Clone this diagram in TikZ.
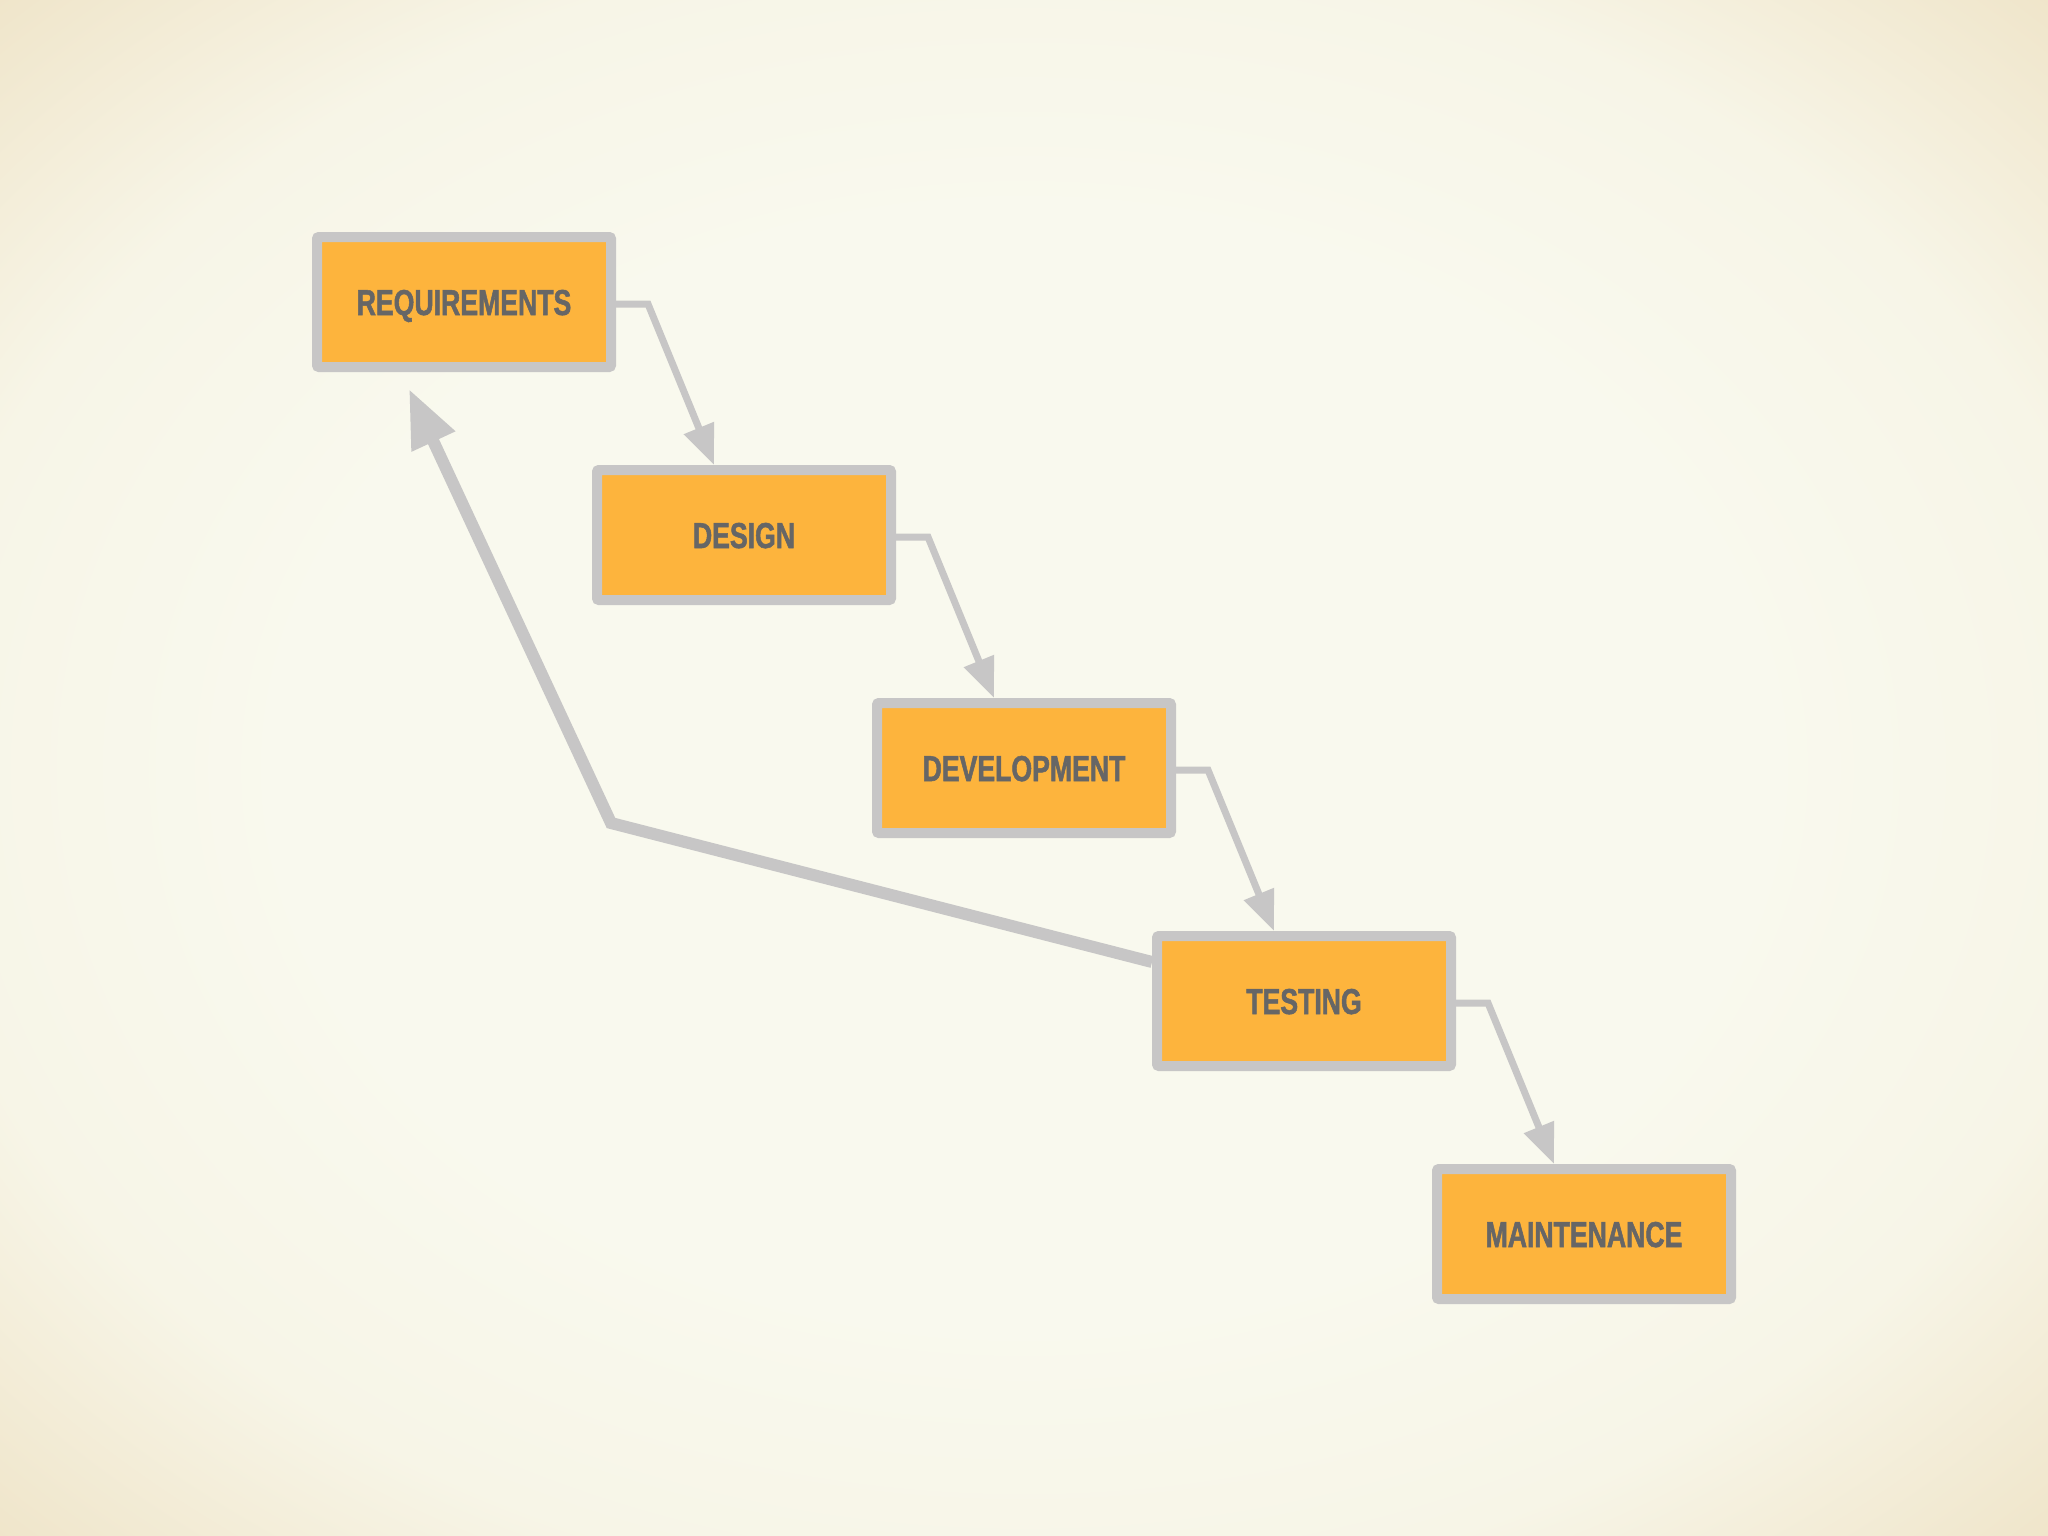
\documentclass[tikz,border=0pt]{standalone}
\usepackage{fontspec}
\newfontfamily\stagefont[FakeStretch=0.74,BoldFeatures={FakeBold=1.4}]{Liberation Sans}
\usetikzlibrary{arrows.meta}

\definecolor{stageorange}{HTML}{FDB43D}
\definecolor{stagegray}{HTML}{C7C6C6}
\definecolor{stagetext}{HTML}{666666}
\definecolor{bgmid}{HTML}{F9F9EE}
\definecolor{bgedge}{HTML}{F7F5E7}
\definecolor{bgcorner}{HTML}{EFE4C8}
\pgfdeclareradialshading{vignette}{\pgfpointorigin}{color(0bp)=(bgmid); color(18bp)=(bgmid); color(27bp)=(bgedge); color(36bp)=(bgcorner); color(50bp)=(bgcorner)}

\begin{document}
\begin{tikzpicture}[x=1pt,y=-1pt,
    stage/.style={draw=stagegray,line width=10pt,fill=stageorange,rounded corners=2pt,
        minimum width=294pt,minimum height=130pt,inner sep=0pt,
        text=stagetext,font=\stagefont\bfseries\fontsize{36}{36}\selectfont,
        text height=26pt,text depth=0pt},
    flow/.style={draw=stagegray,line width=7pt,-{Triangle[length=40pt,width=31pt]}},
    back/.style={draw=stagegray,line width=12pt,-{Triangle[length=58pt,width=45pt]}}]
    %\draw[help lines] (0,0) grid[step=100] (2048,1536);

    \shade[shading=vignette] (0,0) rectangle (2048,1536);

    \foreach \name/\txt [count=\i from 0] in {req/REQUIREMENTS,design/DESIGN,dev/DEVELOPMENT,test/TESTING,maint/MAINTENANCE}
    	\node[stage] (\name) at (464+280*\i,302+233*\i) {\txt};

    \foreach \a/\b in {req/design,design/dev,dev/test,test/maint}
    	\draw[flow] ([yshift=-2pt]\a.east) -- ++(32,0) -- ([xshift=-30pt]\b.north);

    % back to requirements
    \coordinate (bend) at (611,823);
    \coordinate (backtip) at ([xshift=-55pt,yshift=-17pt]req.south);
    \draw[back] ([yshift=39pt]test.west) -- (bend) -- (backtip);

\end{tikzpicture}
\end{document}
